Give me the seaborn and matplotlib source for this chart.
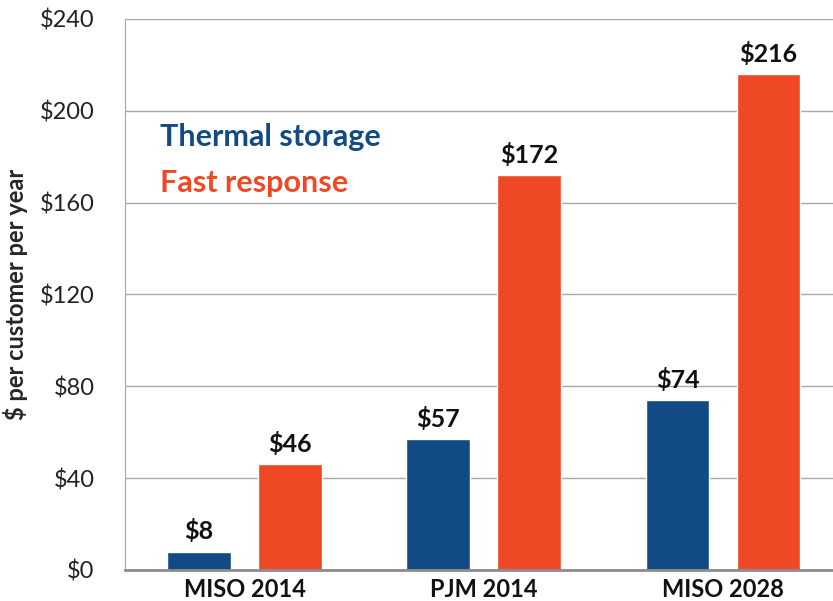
import pandas as pd
import matplotlib.pyplot as plt
import seaborn as sns

# values
regions = ['MISO 2014', 'PJM 2014', 'MISO 2028']
thermal_storage = [8, 57, 74]
fast_response = [46, 172, 216]
series_names = ['Thermal storage', 'Fast response']
colors = ['#114A85', '#EE4824']
yticks = [0, 40, 80, 120, 160, 200, 240]

df = pd.DataFrame({
    'region': regions * 2,
    'value': thermal_storage + fast_response,
    'series': [series_names[0]] * 3 + [series_names[1]] * 3,
})

sns.set_style('white')
plt.rcParams['font.family'] = ['Lato', 'DejaVu Sans']

fig = plt.figure(figsize=(8.33, 6.01), dpi=100)
ax = fig.add_axes([0.150, 0.0516, 0.85, 0.9168])

sns.barplot(data=df, x='region', y='value', hue='series', palette=colors,
            width=0.76, gap=0.3, saturation=1, legend=False, ax=ax)

for cont in ax.containers:
    ax.bar_label(cont, labels=[f'${v:.0f}' for v in cont.datavalues],
                 padding=6, fontsize=18, fontweight='bold', color='#111111')

ax.set_ylim(0, 240)
ax.set_xlim(-0.5, 2.46)
ax.set_yticks(yticks)
ax.set_yticklabels([f'${t}' for t in yticks], fontsize=17, color='#222222')
ax.yaxis.grid(True, color='#A8A8A8', linewidth=1)
ax.set_axisbelow(True)

ax.set_xticks(range(len(regions)))
ax.set_xticklabels(regions, fontsize=17, fontweight='bold', color='#111111')
ax.set_xticks([0.5, 1.5], minor=True)
ax.tick_params(axis='x', which='major', length=0, pad=6)
ax.tick_params(axis='x', which='minor', length=6, width=2, color='#8C8C8C', direction='out')
ax.tick_params(axis='y', length=8, width=1, color='#A8A8A8', direction='out', pad=14)

ax.set_xlabel('')
ax.set_ylabel('$ per customer per year', fontsize=17, fontweight='bold', labelpad=8)

for s in ['top', 'right']:
    ax.spines[s].set_visible(False)
ax.spines['left'].set_color('#A8A8A8')
ax.spines['bottom'].set_color('#8C8C8C')
ax.spines['bottom'].set_linewidth(2)

ax.text(0.05, 0.785, series_names[0], transform=ax.transAxes, fontsize=22,
        fontweight='bold', color=colors[0], va='center')
ax.text(0.05, 0.703, series_names[1], transform=ax.transAxes, fontsize=22,
        fontweight='bold', color=colors[1], va='center')

fig.savefig('out.png', dpi=100)
